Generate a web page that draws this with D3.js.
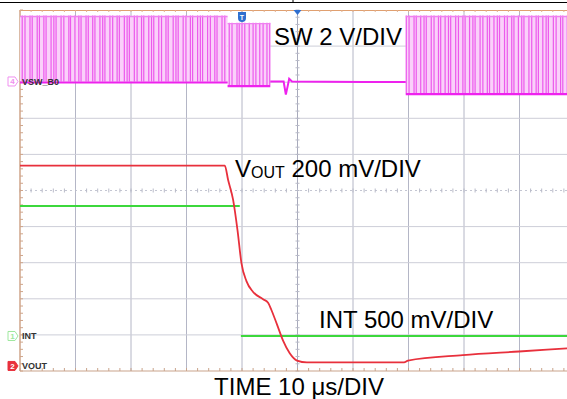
<!DOCTYPE html>
<html>
<head>
<meta charset="utf-8">
<script src="https://cdn.jsdelivr.net/npm/d3@7"></script>
<style>
  body { margin: 0; background: #fff; }
  svg { display: block; font-family: "Liberation Sans", Arial, sans-serif; }
</style>
</head>
<body>
<div id="scope"></div>
<script>
// time base: 10 µs/DIV over 10 divisions
const timeRange = [0, 100];
const divsX = 10, divsY = 10;
const triggerTime = 40;

// channels: name, volts per division, ground marker (divisions from centre)
const channelNames = ["VSW_B0", "INT", "VOUT"];
const channelIds = ["4", "1", "2"];
const voltsPerDiv = [2, 0.5, 0.2];
const groundDiv = [3.02, -4.03, -4.86];
const channelColors = ["#ee22ee", "#3cd83c", "#e8303c"];

// SW node: switching bursts
const swBurstStart = [0.0, 37.4, 69.5];
const swBurstEnd = [37.4, 45.1, 100];
const swBurstHigh = [3.6, 3.2, 3.6];
const swBurstLow = [0.0, -0.2, -0.65];
const swPulses1 = [0.4, 0.9, 1.8, 2.2, 3.1, 3.5, 4.3, 4.7, 5.6, 6.1, 6.5, 7.4, 7.9, 8.8, 9.1, 9.9,
  10.6, 11.0, 11.9, 12.3, 13.1, 13.5, 14.4, 14.9, 15.3, 16.2, 16.7, 17.5, 17.9, 18.8, 19.3, 19.7,
  20.6, 21.1, 21.9, 22.3, 23.2, 23.7, 24.1, 25.0, 25.5, 26.3, 26.7, 27.6, 28.1, 28.5, 29.4, 29.9,
  30.7, 31.1, 32.0, 32.5, 32.9, 33.8, 34.3, 35.1, 35.5, 36.4, 36.9];
const swPulses2 = [37.7, 38.2, 39.1, 39.5, 40.0, 40.5, 41.3, 42.0, 42.5, 43.2, 43.8, 44.5, 45.0];
const swPulses3 = [69.6, 70.1, 71.0, 71.4, 72.2, 72.8, 73.2, 74.1, 74.6, 75.4, 75.8, 76.6, 77.2,
  77.6, 78.5, 79.0, 79.8, 80.2, 81.0, 81.6, 82.0, 82.9, 83.4, 84.2, 84.6, 85.4, 86.0, 86.4, 87.3,
  87.8, 88.6, 89.0, 89.8, 90.4, 90.8, 91.7, 92.2, 93.0, 93.4, 94.2, 94.8, 95.2, 96.1, 96.6, 97.4,
  97.8, 98.6, 99.2, 99.6];
// SW node between bursts
const swFlatTime = [45.1, 47.5, 47.9, 48.2, 48.5, 49.0, 55, 62, 69.5];
const swFlatVolts = [0, 0, -0.72, -0.3, 0.15, 0.0, -0.02, -0.03, -0.03];

// VOUT
const voutTime = [0, 36.9, 37.5, 38.4, 39.2, 39.9, 40.8, 42.0, 43.8, 44.7, 45.3, 46.3, 47.4,
  48.6, 49.9, 51.7, 69.2, 69.9, 79.8, 89.9, 100];
const voutVolts = [1.11, 1.11, 1.03, 0.92, 0.75, 0.57, 0.47, 0.41, 0.37, 0.35, 0.31, 0.23, 0.14,
  0.07, 0.03, 0.02, 0.02, 0.03, 0.06, 0.08, 0.10];

// INT (null = gap, the edge is too fast to show)
const intTime = [0, 39.6, 39.7, 39.8, 100];
const intVolts = [1.8, 1.8, null, 0, 0];

const timeLabel = "TIME 10 \u03bcs/DIV";

const width = 567, height = 399;
const plot = { left: 20, right: 575, top: 10, bottom: 371 };

const svg = d3.select("#scope").append("svg")
    .attr("width", width)
    .attr("height", height);

svg.append("rect").attr("width", width).attr("height", height).attr("fill", "#fff");

const x = d3.scaleLinear().domain(timeRange).range([plot.left, plot.right]);
const xDiv = d3.scaleLinear().domain([0, divsX]).range([plot.left, plot.right]);
const yDiv = d3.scaleLinear().domain([-divsY / 2, divsY / 2]).range([plot.bottom, plot.top]);

// volts of channel c -> pixel
const yv = (c, v) => yDiv(groundDiv[c] + v / voltsPerDiv[c]);

// page border at top
svg.append("line").attr("x1", 0).attr("x2", width).attr("y1", 2.5).attr("y2", 2.5)
    .attr("stroke", "#000").attr("stroke-width", 1.2);
svg.append("line").attr("x1", 293).attr("x2", 293).attr("y1", 0).attr("y2", 3)
    .attr("stroke", "#000");

// grid
const grid = svg.append("g");
grid.selectAll(".vgrid")
    .data(d3.range(1, divsX).filter(i => i !== divsX / 2))
    .join("line")
    .attr("x1", d => xDiv(d)).attr("x2", d => xDiv(d))
    .attr("y1", plot.top).attr("y2", plot.bottom)
    .attr("stroke", "#b4b6c6").attr("stroke-width", 1);
grid.selectAll(".hgrid")
    .data(d3.range(-divsY / 2 + 1, divsY / 2).filter(i => i !== 0))
    .join("line")
    .attr("x1", plot.left).attr("x2", plot.right)
    .attr("y1", d => yDiv(d)).attr("y2", d => yDiv(d))
    .attr("stroke", "#cdced8").attr("stroke-width", 1);

// centre cross with minor ticks
grid.append("line")
    .attr("x1", xDiv(divsX / 2)).attr("x2", xDiv(divsX / 2))
    .attr("y1", plot.top).attr("y2", plot.bottom)
    .attr("stroke", "#a8aabb");
grid.append("line")
    .attr("x1", plot.left).attr("x2", plot.right)
    .attr("y1", yDiv(0)).attr("y2", yDiv(0))
    .attr("stroke", "#c4c6d2").attr("stroke-dasharray", "2,3");
grid.selectAll(".xminor")
    .data(d3.range(0, divsX * 5 + 1))
    .join("line")
    .attr("x1", d => xDiv(d / 5)).attr("x2", d => xDiv(d / 5))
    .attr("y1", yDiv(0) - 2).attr("y2", yDiv(0) + 2)
    .attr("stroke", "#b8bac8");
grid.selectAll(".yminor")
    .data(d3.range(-divsY * 5 / 2, divsY * 5 / 2 + 1))
    .join("line")
    .attr("x1", xDiv(divsX / 2) - 2).attr("x2", xDiv(divsX / 2) + 2)
    .attr("y1", d => yDiv(d / 5)).attr("y2", d => yDiv(d / 5))
    .attr("stroke", "#b8bac8");

// frame: left, top, bottom with ticks
grid.append("line").attr("x1", plot.left).attr("x2", plot.left)
    .attr("y1", plot.top).attr("y2", plot.bottom).attr("stroke", "#cfa58a").attr("stroke-width", 1.5);
grid.append("line").attr("x1", plot.left).attr("x2", plot.right)
    .attr("y1", plot.top + 0.5).attr("y2", plot.top + 0.5).attr("stroke", "#e0a070").attr("stroke-width", 1.2);
grid.append("line").attr("x1", plot.left).attr("x2", plot.right)
    .attr("y1", plot.bottom).attr("y2", plot.bottom).attr("stroke", "#c9a48c").attr("stroke-width", 1.2);
grid.selectAll(".lefttick")
    .data(d3.range(-divsY * 5 / 2, divsY * 5 / 2 + 1))
    .join("line")
    .attr("x1", plot.left).attr("x2", plot.left + 3)
    .attr("y1", d => yDiv(d / 5)).attr("y2", d => yDiv(d / 5))
    .attr("stroke", "#cfa58a");
grid.selectAll(".bottick")
    .data(d3.range(0, divsX * 5 + 1))
    .join("line")
    .attr("x1", d => xDiv(d / 5)).attr("x2", d => xDiv(d / 5))
    .attr("y1", plot.bottom - 3).attr("y2", plot.bottom)
    .attr("stroke", "#c9a48c");
grid.selectAll(".toptick")
    .data(d3.range(0, divsX * 5 + 1))
    .join("line")
    .attr("x1", d => xDiv(d / 5)).attr("x2", d => xDiv(d / 5))
    .attr("y1", plot.top).attr("y2", plot.top + 2)
    .attr("stroke", "#e0b090");

// ---- SW trace ----
const sw = svg.append("g");
const bursts = swBurstStart.map((s, i) => ({
    start: s, end: swBurstEnd[i], high: swBurstHigh[i], low: swBurstLow[i],
    pulses: [swPulses1, swPulses2, swPulses3][i]
}));

sw.selectAll(".env")
    .data(bursts)
    .join("rect")
    .attr("x", d => x(d.start))
    .attr("y", d => yv(0, d.high))
    .attr("width", d => x(d.end) - x(d.start))
    .attr("height", d => yv(0, d.low) - yv(0, d.high))
    .attr("fill", "#fad0fa");

bursts.forEach(b => {
    sw.append("g").selectAll("line")
        .data(b.pulses)
        .join("line")
        .attr("x1", d => x(d)).attr("x2", d => x(d))
        .attr("y1", yv(0, b.low)).attr("y2", yv(0, b.high) - 1)
        .attr("stroke", "#ec5aec").attr("stroke-width", 1.2);
    // ragged top and solid bottom edges
    sw.append("line")
        .attr("x1", x(b.start)).attr("x2", x(b.end))
        .attr("y1", yv(0, b.high)).attr("y2", yv(0, b.high))
        .attr("stroke", "#f080f0").attr("stroke-width", 1.3);
    sw.append("line")
        .attr("x1", x(b.start)).attr("x2", x(b.end))
        .attr("y1", yv(0, b.low) + 1).attr("y2", yv(0, b.low) + 1)
        .attr("stroke", channelColors[0]).attr("stroke-width", 2.2);
});

sw.append("path")
    .datum(swFlatTime.map((t, i) => ({ t, v: swFlatVolts[i] })))
    .attr("fill", "none")
    .attr("stroke", channelColors[0])
    .attr("stroke-width", 2)
    .attr("d", d3.line().x(d => x(d.t)).y(d => yv(0, d.v)));

// ---- INT trace ----
svg.append("path")
    .datum(intTime.map((t, i) => ({ t, v: intVolts[i] })))
    .attr("fill", "none")
    .attr("stroke", channelColors[1])
    .attr("stroke-width", 2.2)
    .attr("d", d3.line().defined(d => d.v !== null).x(d => x(d.t)).y(d => yv(1, d.v)));

// ---- VOUT trace ----
svg.append("path")
    .datum(voutTime.map((t, i) => ({ t, v: voutVolts[i] })))
    .attr("fill", "none")
    .attr("stroke", channelColors[2])
    .attr("stroke-width", 1.8)
    .attr("d", d3.line().curve(d3.curveMonotoneX).x(d => x(d.t)).y(d => yv(2, d.v)));

// ---- channel ground markers and names ----
const markerPath = "M0,-4.5 L7,-4.5 L10,0 L7,4.5 L0,4.5 Z";
const markers = svg.selectAll(".marker")
    .data(channelNames.map((n, i) => ({ n, i })))
    .join("g")
    .attr("transform", d => `translate(8,${yv(d.i, 0)})`);
markers.append("path")
    .attr("d", markerPath)
    .attr("fill", d => d.i === 2 ? channelColors[2] : "#fff")
    .attr("stroke", d => d.i === 0 ? "#f090f0" : d.i === 1 ? "#9ee89e" : channelColors[2]);
markers.append("text")
    .attr("x", 4.5).attr("y", 3)
    .attr("text-anchor", "middle")
    .style("font-size", "8px")
    .style("font-weight", "bold")
    .style("fill", d => d.i === 2 ? "#fff" : d.i === 0 ? "#f090f0" : "#9ee89e")
    .text(d => channelIds[d.i]);
markers.append("text")
    .attr("x", 14).attr("y", 3.5)
    .style("font-size", "9px")
    .style("font-weight", "bold")
    .style("fill", "#333")
    .text(d => d.n);

// trigger marker and horizontal position marker
const trig = svg.append("g").attr("transform", `translate(${x(triggerTime)},12)`);
trig.append("path")
    .attr("d", "M-4,0 L4,0 L4,6 Q4,10 0,10 Q-4,10 -4,6 Z")
    .attr("fill", "#2f6fcf");
trig.append("text")
    .attr("y", 8).attr("text-anchor", "middle")
    .style("font-size", "7px").style("font-weight", "bold").style("fill", "#fff")
    .text("T");
svg.append("path")
    .attr("d", `M${xDiv(divsX / 2) - 4},${plot.top} L${xDiv(divsX / 2) + 4},${plot.top} L${xDiv(divsX / 2)},${plot.top + 5} Z`)
    .attr("fill", "#2f6fcf");

// ---- annotations ----
svg.append("text")
    .attr("x", 274).attr("y", 45)
    .style("font-size", "24px")
    .text("SW 2 V/DIV");

const vLabel = svg.append("text")
    .attr("x", 235).attr("y", 177)
    .style("font-size", "24px");
vLabel.append("tspan").text("V");
vLabel.append("tspan").style("font-size", "16px").attr("dy", 1).text("OUT");
vLabel.append("tspan").attr("dy", -1).text(" 200 mV/DIV");

svg.append("text")
    .attr("x", 319).attr("y", 328)
    .style("font-size", "24px")
    .text("INT 500 mV/DIV");

svg.append("text")
    .attr("x", 299).attr("y", 395)
    .attr("text-anchor", "middle")
    .style("font-size", "24px")
    .text(timeLabel);
</script>
</body>
</html>
